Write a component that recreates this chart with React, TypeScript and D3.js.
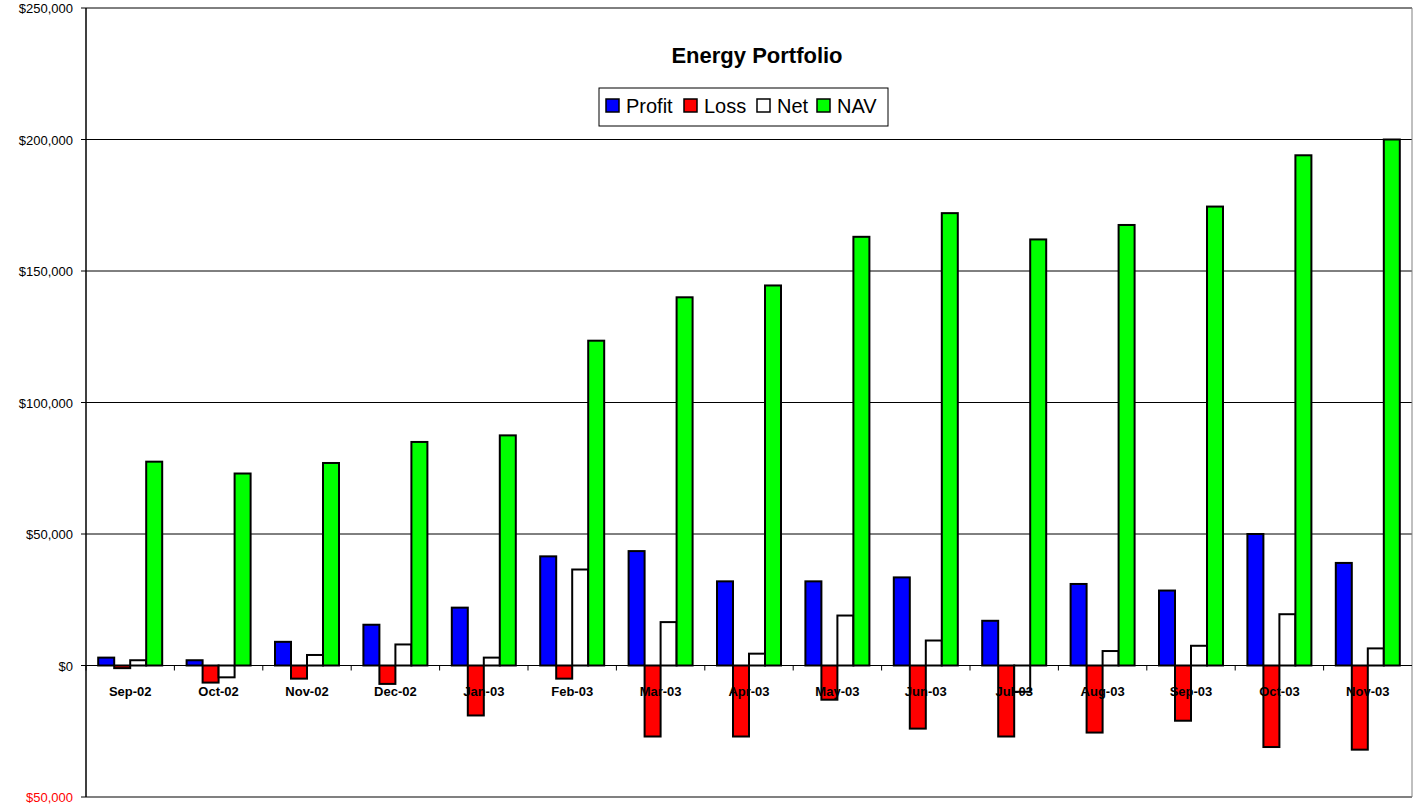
import React from "react";
import * as d3 from "d3";

const categories = ["Sep-02","Oct-02","Nov-02","Dec-02","Jan-03","Feb-03","Mar-03","Apr-03","May-03","Jun-03","Jul-03","Aug-03","Sep-03","Oct-03","Nov-03"];
const profit = [3000,2000,9000,15500,22000,41500,43500,32000,32000,33500,17000,31000,28500,50000,39000];
const loss = [-1000,-6500,-5000,-7000,-19000,-5000,-27000,-27000,-13000,-24000,-27000,-25500,-21000,-31000,-32000];
const net = [2000,-4500,4000,8000,3000,36500,16500,4500,19000,9500,-10000,5500,7500,19500,6500];
const nav = [77500,73000,77000,85000,87500,123500,140000,144500,163000,172000,162000,167500,174500,194000,200000];
const yTicks = [-50000,0,50000,100000,150000,200000,250000];
const seriesNames = ["Profit","Loss","Net","NAV"];
const colors = ["#0000ff","#ff0000","#ffffff","#00ff00"];

export default function App() {
  const W = 1422, H = 809;
  const L = 86, R = 1412, T = 8, B = 797;
  const y = d3.scaleLinear().domain([-50000, 250000]).range([B, T]);
  const x = d3.scaleBand().domain(categories).range([L, R]);
  const bw = 16;
  const off = (x.bandwidth() - 4 * bw) / 2;
  const series = [profit, loss, net, nav];
  const font = "Arial, 'Liberation Sans', sans-serif";
  const fmt = (v: number) => "$" + d3.format(",")(Math.abs(v));
  return (
    <svg width={W} height={H} style={{ position: "absolute", left: 0, top: 0 }} fontFamily={font}>
      <rect width={W} height={H} fill="#fff" />
      {yTicks.filter(t => t > 0).map(t => (
        <line key={t} x1={L} x2={R} y1={y(t)} y2={y(t)} stroke="#000" strokeWidth={1} />
      ))}
      <line x1={L} x2={R} y1={B} y2={B} stroke="#808080" strokeWidth={2} />
      <line x1={R} x2={R} y1={T} y2={B} stroke="#808080" strokeWidth={1} />
      {series.map((s, si) => s.map((v, i) => {
        const x0 = (x(categories[i]) as number) + off + si * bw;
        return <rect key={si + "-" + i} x={x0} width={bw} y={Math.min(y(v), y(0))} height={Math.abs(y(v) - y(0))}
          fill={colors[si]} stroke="#000" strokeWidth={2} />;
      }))}
      <line x1={L} x2={R} y1={y(0)} y2={y(0)} stroke="#000" strokeWidth={1} />
      <line x1={L} x2={L} y1={T} y2={B} stroke="#000" strokeWidth={1.5} />
      {categories.map((c, i) => (
        <line key={"t" + c} x1={L + i * x.step()} x2={L + i * x.step()} y1={y(0)} y2={y(0) + 5} stroke="#000" />
      ))}
      {categories.map(c => (
        <text key={c} x={(x(c) as number) + x.bandwidth() / 2} y={y(0) + 30} textAnchor="middle" fontSize={13} fontWeight="bold">{c}</text>
      ))}
      {yTicks.map(t => (
        <g key={"y" + t}>
          <line x1={L - 5} x2={L} y1={y(t)} y2={y(t)} stroke="#000" />
          <text x={L - 13} y={y(t) + 5} textAnchor="end" fontSize={13} fill={t < 0 ? "#ff0000" : "#000"}>{fmt(t)}</text>
        </g>
      ))}
      <text x={757} y={63} textAnchor="middle" fontSize={22} fontWeight="bold">Energy Portfolio</text>
      <rect x={599} y={88} width={289} height={38} fill="#fff" stroke="#000" strokeWidth={1} />
      {(() => {
        const pos = [606, 684, 757, 817];
        return seriesNames.map((n, i) => (
          <g key={n}>
            <rect x={pos[i]} y={99} width={13} height={13} fill={colors[i]} stroke="#000" strokeWidth={1.5} />
            <text x={pos[i] + 20} y={113} fontSize={20}>{n}</text>
          </g>
        ));
      })()}
    </svg>
  );
}
